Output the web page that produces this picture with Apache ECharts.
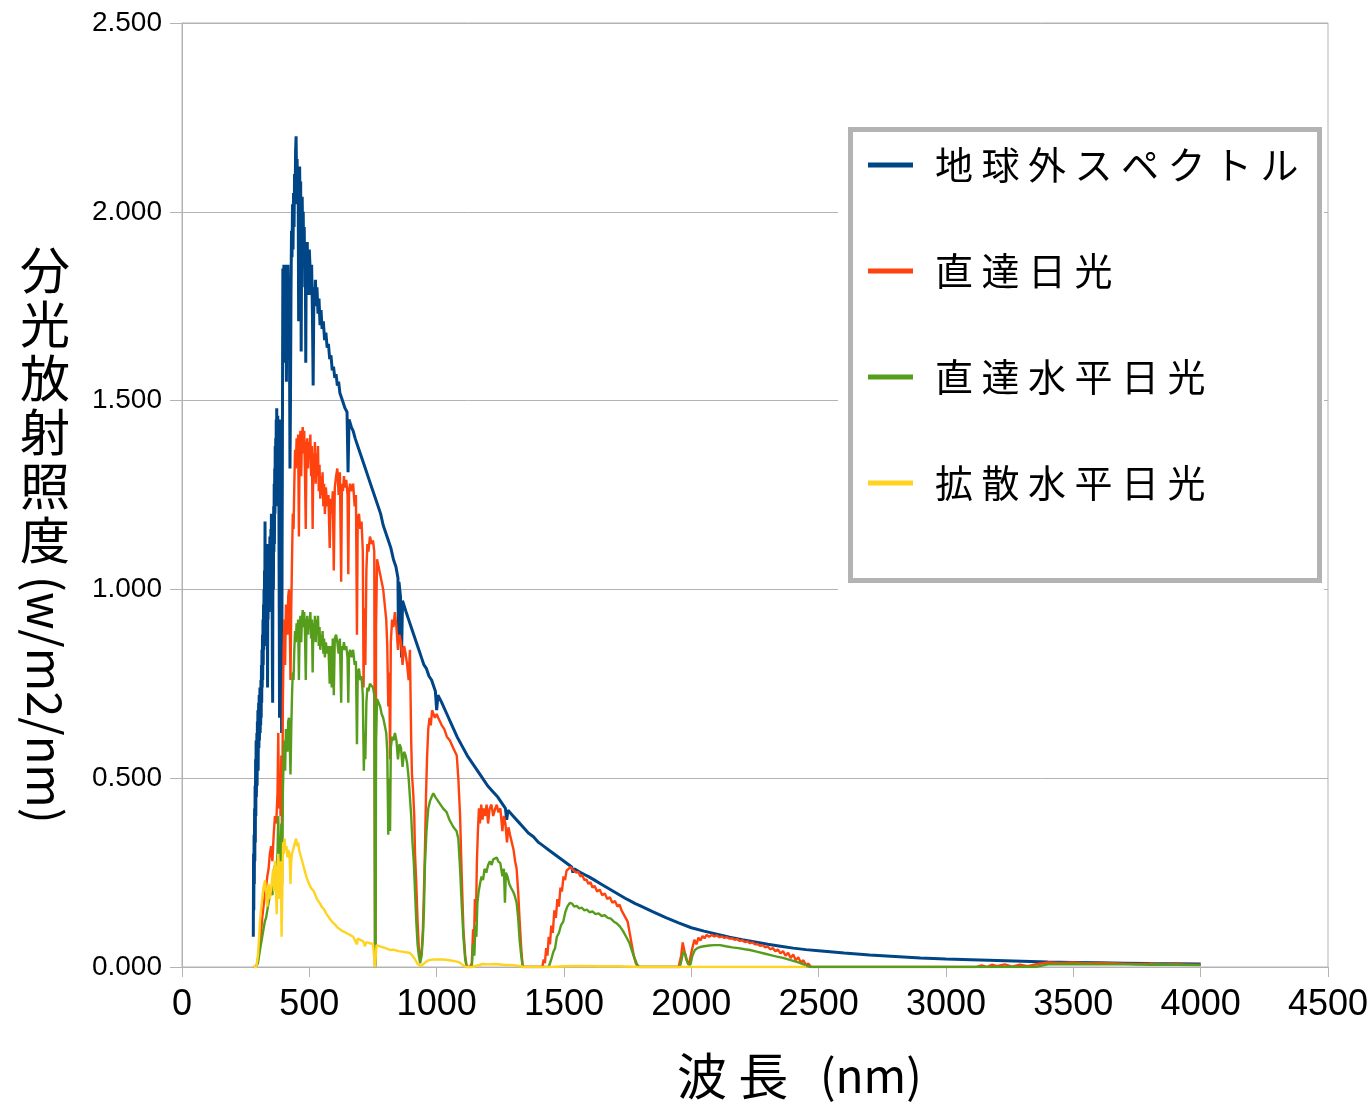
<!DOCTYPE html>
<html>
<head>
<meta charset="utf-8">
<script src="https://cdn.jsdelivr.net/npm/echarts@6/dist/echarts.min.js"></script>
<style>
  html, body { margin: 0; padding: 0; background: #fff; }
  #chart { width: 1370px; height: 1103px; }
</style>
</head>
<body>
<div id="chart"></div>
<script>
// Solar spectral irradiance, [wavelength nm, W/m2/nm]
const seriesNames = ['地球外スペクトル', '直達日光', '直達水平日光', '拡散水平日光'];
const seriesColors = ['#004586', '#ff420e', '#579d1c', '#ffd320'];

const xTicks = [0, 500, 1000, 1500, 2000, 2500, 3000, 3500, 4000, 4500];
const yTicks = [0, 0.5, 1.0, 1.5, 2.0, 2.5];

const extraterrestrial = [
  [280,0.08],[281,0.30],[282,0.15],[283,0.35],[284,0.22],[285,0.42],[286,0.28],[287,0.48],[288,0.33],[289,0.55],
  [290,0.40],[291,0.60],[292,0.45],[293,0.52],[294,0.62],[295,0.48],[296,0.65],[297,0.55],[298,0.68],[299,0.52],
  [300,0.62],[301,0.70],[302,0.58],[303,0.72],[304,0.60],[305,0.66],[306,0.74],[307,0.62],[308,0.70],[309,0.64],
  [310,0.76],[311,0.66],[312,0.80],[313,0.70],[314,0.84],[315,0.74],[316,0.88],[317,0.76],[318,0.92],[319,0.80],
  [320,0.96],[321,0.84],[322,1.00],[323,0.88],[324,1.05],[325,0.92],[326,1.18],[327,0.95],[328,1.10],[329,0.92],
  [330,1.12],[331,0.98],[332,1.06],[333,0.85],[334,1.04],[335,0.90],[336,0.74],[337,1.02],[338,0.92],[339,1.08],
  [340,0.96],[341,1.12],[342,0.94],[343,1.08],[344,0.98],[345,1.14],[346,1.00],[347,1.10],[348,0.96],[349,1.16],
  [350,1.04],[351,1.20],[352,1.06],[353,1.18],[354,0.95],[355,0.78],[356,0.70],[357,1.05],[358,1.15],[359,1.00],
  [360,1.22],[361,1.10],[362,1.28],[363,1.12],[364,1.32],[365,1.20],[366,1.38],[367,1.25],[368,1.40],[369,1.28],
  [370,1.45],[371,1.30],[372,1.48],[373,1.26],[374,1.42],[375,1.22],[376,1.46],[377,1.30],[378,1.44],[379,1.25],
  [380,1.40],[381,1.10],[382,0.90],[383,0.66],[384,0.80],[385,1.15],[386,1.30],[387,1.45],[388,1.36],[389,1.20],
  [390,0.95],[391,0.62],[392,0.75],[393,1.10],[394,1.30],[395,1.60],[396,1.85],[397,1.70],[398,1.82],[399,1.65],
  [400,1.86],[402,1.60],[404,1.84],[406,1.78],[408,1.86],[410,1.55],[412,1.82],[414,1.70],[416,1.86],[418,1.76],
  [420,1.80],[422,1.66],[424,1.32],[426,1.50],[428,1.78],[430,1.95],[432,1.88],[434,2.02],[436,1.90],[438,2.05],
  [440,1.96],[442,2.10],[444,2.02],[446,2.16],[448,2.20],[450,2.08],[452,2.14],[454,2.02],[456,2.12],[458,1.71],
  [460,2.06],[462,2.12],[464,1.98],[466,2.08],[468,1.63],[470,1.95],[472,2.04],[474,1.90],[476,2.00],[478,1.86],
  [480,1.96],[482,1.80],[484,1.92],[486,1.60],[488,1.90],[490,1.86],[492,1.92],[494,1.78],[496,1.88],[498,1.82],
  [500,1.90],[503,1.85],[506,1.78],[509,1.86],[512,1.74],[515,1.54],[518,1.80],[521,1.76],[524,1.82],[527,1.75],
  [530,1.80],[534,1.73],[538,1.77],[542,1.70],[546,1.74],[550,1.69],[555,1.71],[560,1.66],[565,1.68],[570,1.64],
  [575,1.65],[580,1.61],[585,1.62],[590,1.58],[595,1.59],[600,1.56],[605,1.57],[610,1.54],[615,1.55],[620,1.52],
  [625,1.52],[630,1.50],[635,1.50],[640,1.48],[648,1.47],[652,1.31],[656,1.45],[665,1.43],[672,1.42],[680,1.40],
  [690,1.38],[700,1.36],[710,1.34],[720,1.32],[730,1.30],[740,1.28],[750,1.26],[760,1.24],[770,1.22],[780,1.20],
  [790,1.17],[800,1.15],[810,1.13],[820,1.11],[830,1.08],[840,1.06],[848,1.03],[850,0.86],[852,1.02],[858,0.98],
  [862,0.82],[866,0.97],[880,0.94],[890,0.92],[900,0.90],[910,0.88],[920,0.86],[930,0.84],[940,0.82],[950,0.80],
  [960,0.79],[970,0.77],[980,0.76],[995,0.73],[1000,0.68],[1005,0.72],[1020,0.70],[1040,0.67],[1060,0.64],[1080,0.61],
  [1100,0.585],[1120,0.56],[1140,0.54],[1160,0.52],[1180,0.50],[1200,0.48],[1220,0.465],[1240,0.45],[1260,0.43],[1270,0.42],
  [1275,0.39],[1280,0.415],[1300,0.40],[1320,0.385],[1340,0.37],[1360,0.355],[1380,0.345],[1400,0.33],[1420,0.32],[1440,0.31],
  [1460,0.30],[1480,0.29],[1500,0.28],[1520,0.27],[1530,0.265],[1535,0.25],[1540,0.26],[1560,0.252],[1580,0.245],[1600,0.238],
  [1620,0.23],[1640,0.222],[1660,0.214],[1680,0.206],[1700,0.198],[1720,0.19],[1740,0.182],[1760,0.175],[1780,0.168],[1800,0.162],
  [1850,0.146],[1900,0.131],[1950,0.117],[2000,0.104],[2050,0.095],[2100,0.087],[2150,0.079],[2200,0.072],[2250,0.066],[2300,0.060],
  [2350,0.055],[2400,0.050],[2450,0.046],[2500,0.043],[2600,0.037],[2700,0.032],[2800,0.028],[2900,0.024],[3000,0.021],[3100,0.019],
  [3200,0.017],[3300,0.015],[3400,0.013],[3500,0.012],[3600,0.011],[3700,0.010],[3800,0.009],[3900,0.0085],[4000,0.008]
];

const direct = [
  [280,0],[290,0],[296,0.01],[300,0.03],[305,0.06],[310,0.09],[315,0.13],[320,0.16],[325,0.19],[330,0.21],
  [335,0.24],[340,0.26],[345,0.30],[350,0.32],[355,0.28],[360,0.35],[365,0.40],[370,0.38],[375,0.46],[378,0.62],
  [381,0.42],[384,0.50],[387,0.40],[390,0.56],[393,0.30],[396,0.70],[399,0.84],[402,0.92],[405,0.80],[408,0.96],
  [411,0.94],[414,0.88],[417,0.98],[420,1.00],[423,0.92],[426,0.76],[429,0.95],[432,1.08],[435,1.20],[438,1.16],
  [441,1.28],[444,1.37],[447,1.32],[450,1.40],[453,1.35],[456,1.41],[459,1.14],[462,1.38],[465,1.42],[468,1.30],
  [471,1.40],[474,1.43],[477,1.36],[480,1.42],[483,1.30],[486,1.16],[489,1.38],[492,1.40],[495,1.32],[498,1.39],
  [501,1.35],[504,1.41],[507,1.30],[510,1.38],[513,1.16],[516,1.36],[519,1.33],[522,1.39],[525,1.28],[528,1.36],
  [531,1.30],[534,1.38],[537,1.26],[540,1.33],[543,1.24],[546,1.30],[549,1.25],[552,1.31],[555,1.22],[558,1.28],
  [561,1.20],[565,1.27],[570,1.22],[575,1.25],[580,1.11],[584,1.24],[588,1.20],[592,1.26],[596,1.05],[600,1.27],
  [605,1.30],[610,1.32],[615,1.25],[620,1.31],[625,1.02],[628,1.28],[632,1.26],[636,1.30],[640,1.27],[645,1.29],
  [650,1.25],[653,1.04],[656,1.26],[660,1.28],[666,1.26],[672,1.28],[678,1.22],[683,1.25],[687,0.88],[690,1.19],
  [695,1.20],[700,1.16],[705,1.18],[710,1.10],[713,0.74],[716,0.95],[720,0.80],[724,1.05],[728,1.12],[732,1.10],
  [738,1.14],[745,1.12],[750,1.13],[755,1.10],[758,0.0],[760,0.02],[762,0.90],[766,1.08],[772,1.06],[778,1.04],
  [784,1.02],[790,1.00],[796,0.96],[802,0.92],[806,0.85],[810,0.69],[814,0.78],[817,0.55],[820,0.86],[825,0.92],
  [830,0.90],[836,0.94],[842,0.90],[848,0.84],[854,0.88],[860,0.86],[866,0.80],[872,0.85],[878,0.83],[884,0.80],
  [890,0.76],[895,0.84],[900,0.60],[903,0.51],[908,0.46],[912,0.40],[915,0.30],[920,0.22],[925,0.12],[930,0.05],
  [935,0.02],[941,0.04],[946,0.10],[950,0.20],[954,0.31],[958,0.45],[962,0.55],[967,0.63],[972,0.66],[977,0.64],
  [982,0.68],[987,0.68],[993,0.66],[1000,0.67],[1006,0.66],[1013,0.66],[1020,0.64],[1030,0.63],[1040,0.61],[1052,0.60],
  [1065,0.58],[1079,0.56],[1085,0.50],[1092,0.40],[1098,0.25],[1105,0.10],[1112,0.03],[1118,0.0],[1130,0.0],[1138,0.01],
  [1143,0.10],[1146,0.04],[1150,0.18],[1154,0.12],[1158,0.28],[1162,0.36],[1166,0.42],[1170,0.38],[1175,0.43],[1180,0.39],
  [1185,0.42],[1190,0.40],[1196,0.43],[1202,0.38],[1208,0.42],[1215,0.43],[1222,0.40],[1230,0.42],[1236,0.43],[1242,0.41],
  [1250,0.42],[1258,0.36],[1264,0.40],[1270,0.38],[1276,0.33],[1282,0.37],[1288,0.35],[1295,0.33],[1302,0.31],[1308,0.28],
  [1314,0.26],[1320,0.20],[1326,0.12],[1332,0.05],[1338,0.0],[1415,0.0],[1420,0.02],[1425,0.01],[1430,0.05],[1435,0.03],
  [1440,0.08],[1445,0.06],[1450,0.11],[1456,0.09],[1462,0.15],[1468,0.13],[1474,0.18],[1480,0.16],[1486,0.21],[1492,0.20],
  [1498,0.24],[1504,0.23],[1510,0.255],[1518,0.26],[1526,0.265],[1534,0.258],[1540,0.262],[1548,0.25],[1556,0.252],[1564,0.24],
  [1572,0.243],[1580,0.23],[1588,0.232],[1596,0.22],[1604,0.225],[1612,0.21],[1620,0.215],[1630,0.20],[1640,0.205],[1650,0.19],
  [1660,0.195],[1670,0.18],[1680,0.185],[1690,0.17],[1700,0.175],[1710,0.16],[1718,0.165],[1726,0.15],[1734,0.14],[1742,0.13],
  [1750,0.12],[1758,0.09],[1766,0.06],[1774,0.03],[1782,0.01],[1790,0.0],[1950,0.0],[1960,0.03],[1966,0.065],[1972,0.06],
  [1980,0.02],[1990,0.005],[1996,0.01],[2004,0.05],[2012,0.072],[2020,0.06],[2028,0.078],[2036,0.07],[2044,0.082],[2052,0.076],
  [2060,0.085],[2070,0.08],[2080,0.085],[2090,0.081],[2100,0.084],[2110,0.079],[2120,0.081],[2130,0.077],[2140,0.079],[2150,0.075],
  [2160,0.076],[2170,0.072],[2180,0.074],[2190,0.069],[2200,0.071],[2210,0.066],[2220,0.068],[2230,0.063],[2240,0.065],[2250,0.06],
  [2260,0.061],[2270,0.056],[2280,0.058],[2290,0.052],[2300,0.054],[2310,0.047],[2320,0.05],[2330,0.042],[2340,0.046],[2350,0.036],
  [2360,0.042],[2370,0.03],[2380,0.038],[2390,0.024],[2400,0.033],[2410,0.018],[2420,0.026],[2430,0.011],[2440,0.018],[2450,0.005],
  [2460,0.009],[2470,0.0],[3120,0.0],[3140,0.004],[3160,0.0],[3180,0.006],[3200,0.002],[3230,0.007],[3260,0.001],[3290,0.006],
  [3320,0.002],[3360,0.008],[3400,0.012],[3450,0.011],[3500,0.012],[3550,0.010],[3600,0.011],[3650,0.010],[3700,0.009],[3750,0.008],
  [3800,0.009],[3850,0.007],[3900,0.008],[3950,0.006],[4000,0.006]
];

const directHorizontal = [
  [290,0],[298,0.01],[305,0.04],[310,0.06],[315,0.08],[320,0.10],[325,0.12],[330,0.13],[335,0.15],[340,0.17],
  [345,0.19],[350,0.21],[355,0.19],[360,0.24],[365,0.27],[370,0.25],[375,0.30],[378,0.40],[381,0.29],[384,0.33],
  [387,0.27],[390,0.38],[393,0.22],[396,0.46],[399,0.55],[402,0.60],[405,0.52],[408,0.63],[411,0.62],[414,0.57],
  [417,0.65],[420,0.66],[423,0.60],[426,0.51],[429,0.63],[432,0.72],[435,0.78],[438,0.76],[441,0.84],[444,0.89],
  [447,0.86],[450,0.91],[453,0.88],[456,0.92],[459,0.76],[462,0.90],[465,0.93],[468,0.86],[471,0.92],[474,0.945],
  [477,0.90],[480,0.94],[483,0.88],[486,0.76],[489,0.91],[492,0.93],[495,0.88],[498,0.92],[501,0.90],[504,0.94],
  [507,0.87],[510,0.92],[513,0.78],[516,0.91],[519,0.89],[522,0.93],[525,0.86],[528,0.92],[531,0.88],[534,0.93],
  [537,0.85],[540,0.90],[543,0.84],[546,0.88],[549,0.85],[552,0.89],[555,0.83],[558,0.87],[561,0.82],[565,0.86],
  [570,0.83],[575,0.85],[580,0.75],[584,0.85],[588,0.74],[592,0.87],[596,0.72],[600,0.87],[605,0.88],[610,0.86],
  [615,0.83],[620,0.87],[625,0.70],[628,0.85],[632,0.84],[636,0.86],[640,0.84],[645,0.85],[650,0.82],[653,0.70],
  [656,0.83],[660,0.84],[666,0.82],[672,0.84],[678,0.80],[683,0.81],[687,0.59],[690,0.78],[695,0.79],[700,0.76],
  [705,0.77],[710,0.72],[714,0.52],[717,0.62],[720,0.55],[724,0.70],[728,0.74],[732,0.73],[738,0.75],[745,0.75],
  [750,0.74],[755,0.72],[758,0.0],[760,0.01],[762,0.60],[766,0.71],[772,0.70],[778,0.69],[784,0.67],[790,0.66],
  [796,0.64],[802,0.62],[806,0.57],[810,0.35],[814,0.50],[817,0.36],[820,0.58],[825,0.61],[830,0.60],[836,0.62],
  [842,0.60],[848,0.55],[854,0.59],[860,0.58],[866,0.53],[872,0.57],[878,0.56],[884,0.54],[890,0.50],[895,0.45],
  [900,0.40],[905,0.33],[910,0.28],[915,0.20],[920,0.12],[925,0.06],[930,0.03],[935,0.01],[941,0.03],[946,0.08],
  [950,0.15],[954,0.27],[960,0.36],[967,0.42],[974,0.44],[980,0.45],[987,0.46],[995,0.45],[1005,0.44],[1015,0.43],
  [1025,0.42],[1039,0.41],[1050,0.39],[1066,0.37],[1078,0.36],[1085,0.34],[1092,0.26],[1098,0.17],[1105,0.08],[1112,0.02],
  [1118,0.0],[1138,0.0],[1143,0.06],[1148,0.03],[1152,0.11],[1156,0.08],[1160,0.17],[1165,0.20],[1170,0.22],[1176,0.24],
  [1182,0.23],[1188,0.26],[1195,0.25],[1202,0.27],[1209,0.28],[1216,0.27],[1222,0.285],[1229,0.29],[1236,0.29],[1242,0.28],
  [1250,0.275],[1258,0.24],[1264,0.26],[1268,0.17],[1272,0.25],[1278,0.24],[1285,0.22],[1292,0.21],[1300,0.20],[1306,0.19],
  [1314,0.17],[1320,0.13],[1326,0.07],[1332,0.03],[1338,0.0],[1440,0.0],[1450,0.02],[1458,0.04],[1465,0.05],[1472,0.08],
  [1480,0.09],[1488,0.11],[1497,0.12],[1505,0.145],[1513,0.16],[1523,0.17],[1532,0.168],[1540,0.16],[1550,0.162],[1560,0.155],
  [1570,0.157],[1580,0.15],[1590,0.152],[1600,0.145],[1612,0.147],[1624,0.14],[1636,0.142],[1648,0.135],[1660,0.137],[1672,0.13],
  [1684,0.128],[1696,0.12],[1708,0.115],[1720,0.107],[1732,0.095],[1744,0.08],[1756,0.065],[1766,0.045],[1776,0.025],[1786,0.008],
  [1795,0.0],[1955,0.0],[1962,0.02],[1968,0.04],[1976,0.035],[1986,0.01],[1996,0.005],[2004,0.03],[2014,0.045],[2024,0.05],
  [2034,0.053],[2050,0.055],[2070,0.057],[2090,0.058],[2113,0.058],[2135,0.055],[2160,0.052],[2185,0.05],[2210,0.047],[2230,0.045],
  [2260,0.04],[2290,0.035],[2320,0.03],[2340,0.027],[2360,0.024],[2380,0.02],[2400,0.016],[2420,0.012],[2440,0.007],[2460,0.002],
  [2470,0.0],[3350,0.0],[3400,0.007],[3500,0.008],[3600,0.007],[3700,0.007],[3800,0.006],[3900,0.006],[4000,0.005]
];

const diffuseHorizontal = [
  [280,0],[292,0.0],[298,0.03],[303,0.08],[306,0.12],[310,0.15],[315,0.18],[320,0.21],[326,0.23],[330,0.20],
  [335,0.16],[340,0.22],[345,0.18],[352,0.22],[358,0.26],[362,0.20],[365,0.28],[368,0.22],[372,0.14],[375,0.26],
  [378,0.30],[381,0.18],[384,0.24],[388,0.28],[391,0.08],[394,0.20],[397,0.33],[400,0.30],[403,0.34],[406,0.31],
  [410,0.32],[414,0.29],[418,0.31],[422,0.30],[426,0.22],[429,0.28],[432,0.30],[436,0.31],[440,0.32],[444,0.33],
  [448,0.34],[452,0.32],[456,0.33],[460,0.31],[464,0.30],[468,0.29],[472,0.28],[476,0.27],[480,0.26],[484,0.25],
  [488,0.24],[492,0.235],[496,0.225],[500,0.22],[506,0.21],[512,0.205],[518,0.20],[524,0.19],[530,0.18],[536,0.175],
  [542,0.168],[548,0.16],[554,0.155],[560,0.15],[566,0.142],[572,0.137],[578,0.13],[585,0.124],[592,0.118],[600,0.113],
  [610,0.105],[620,0.10],[630,0.095],[640,0.092],[650,0.088],[660,0.085],[672,0.08],[687,0.06],[690,0.075],[700,0.072],
  [712,0.068],[718,0.055],[724,0.066],[738,0.063],[750,0.061],[758,0.0],[761,0.03],[764,0.058],[780,0.054],[800,0.05],
  [817,0.045],[830,0.046],[850,0.042],[870,0.04],[895,0.037],[905,0.03],[915,0.02],[925,0.008],[935,0.003],[945,0.006],
  [955,0.012],[965,0.017],[974,0.019],[990,0.02],[1010,0.02],[1025,0.02],[1050,0.018],[1075,0.015],[1090,0.012],[1103,0.005],
  [1115,0.0],[1140,0.0],[1160,0.004],[1182,0.008],[1200,0.007],[1230,0.008],[1260,0.006],[1300,0.005],[1330,0.002],[1340,0.0],
  [1450,0.0],[1500,0.002],[1560,0.003],[1640,0.002],[1720,0.002],[1790,0.0],[2000,0.0],[2450,0.0]
];

const seriesData = [extraterrestrial, direct, directHorizontal, diffuseHorizontal];
const lineWidths = [3, 2.4, 2.4, 2.4];

const cjkFont = '"Noto Sans CJK JP", "Noto Sans CJK SC", sans-serif';
const latinFont = '"Liberation Sans", Arial, sans-serif';
const gridColor = '#b3b3b3';

const chart = echarts.init(document.getElementById('chart'), null, { renderer: 'canvas' });

chart.setOption({
  animation: false,
  backgroundColor: '#ffffff',
  color: seriesColors,
  grid: {
    left: 182, right: 42, top: 23, bottom: 136,
    show: true, borderColor: gridColor, borderWidth: 1,
    outerBoundsMode: 'none'
  },
  xAxis: {
    type: 'value',
    min: xTicks[0], max: xTicks[xTicks.length - 1], interval: 500,
    axisLine: { show: true, onZero: false, lineStyle: { color: gridColor, width: 1 } },
    axisTick: { show: true, inside: false, length: 10, lineStyle: { color: gridColor } },
    splitLine: { show: false },
    axisLabel: {
      color: '#000', fontFamily: latinFont, fontSize: 36, margin: 20,
      showMinLabel: true, showMaxLabel: true,
      formatter: v => String(v)
    }
  },
  yAxis: {
    type: 'value',
    min: yTicks[0], max: yTicks[yTicks.length - 1], interval: 0.5,
    axisLine: { show: true, lineStyle: { color: gridColor, width: 1 } },
    axisTick: { show: true, inside: false, length: 12, lineStyle: { color: gridColor } },
    splitLine: { show: true, lineStyle: { color: gridColor, width: 1 } },
    axisLabel: {
      color: '#000', fontFamily: latinFont, fontSize: 28, margin: 20,
      formatter: v => v.toFixed(3)
    }
  },
  legend: {
    orient: 'vertical',
    left: 868, top: 140,
    z: 20,
    icon: 'rect',
    itemWidth: 45, itemHeight: 5,
    itemGap: 56,
    padding: 0,
    selectedMode: false,
    data: seriesNames,
    formatter: name => name.split('').join(' '),
    textStyle: {
      color: '#000', fontFamily: cjkFont, fontSize: 38, lineHeight: 50,
      padding: [0, 0, 0, 17]
    }
  },
  graphic: [
    // clears grid lines behind the legend panel
    { type: 'rect', z: 5, shape: { x: 838, y: 118, width: 486, height: 474 }, style: { fill: '#ffffff' } },
    { type: 'rect', z: 6, shape: { x: 850.5, y: 129.5, width: 469, height: 451 },
      style: { fill: 'none', stroke: gridColor, lineWidth: 5 } },
    // y axis title: upright kanji stacked, units turned sideways
    { type: 'text', z: 10, x: 45, y: 243,
      style: { text: '分\n光\n放\n射\n照\n度', fill: '#000', font: '50px ' + cjkFont,
               lineHeight: 54, align: 'center', verticalAlign: 'top' } },
    { type: 'text', z: 10, x: 45, y: 576, rotation: -Math.PI / 2,
      style: { text: '(w/m2/nm)', fill: '#000', font: '47px ' + cjkFont,
               align: 'left', verticalAlign: 'middle' } },
    // x axis title
    { type: 'text', z: 10, x: 677, y: 1076,
      style: { text: '波 長', fill: '#000', font: '50px ' + cjkFont, align: 'left', verticalAlign: 'middle' } },
    { type: 'text', z: 10, x: 820, y: 1076,
      style: { text: '(nm)', fill: '#000', font: '46px ' + cjkFont, align: 'left', verticalAlign: 'middle' } }
  ],
  series: seriesNames.map((name, i) => ({
    name: name,
    type: 'line',
    data: seriesData[i],
    showSymbol: false,
    symbol: 'none',
    smooth: false,
    lineStyle: { color: seriesColors[i], width: lineWidths[i] },
    itemStyle: { color: seriesColors[i] },
    z: 2 + i
  }))
});
</script>
</body>
</html>
